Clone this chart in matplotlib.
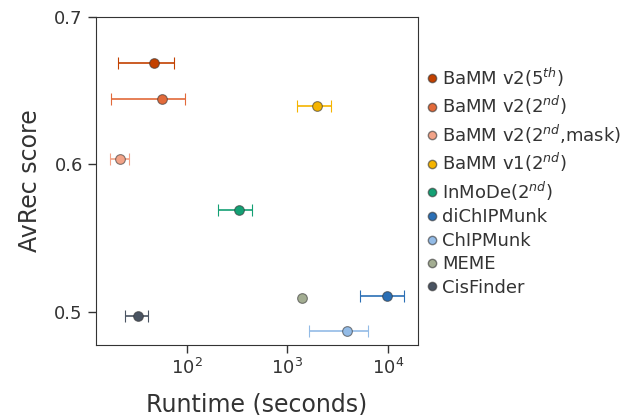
import numpy as np
import matplotlib
matplotlib.use("Agg")
from matplotlib import pyplot as plt

# tools, runtime (s), runtime error range, AvRec score
tools = [r"BaMM v2(5$^{th}$)", r"BaMM v2(2$^{nd}$)", r"BaMM v2(2$^{nd}$,mask)",
         r"BaMM v1(2$^{nd}$)", r"InMoDe(2$^{nd}$)", "diChIPMunk", "ChIPMunk",
         "MEME", "CisFinder"]
runtime = [47.3, 56.4, 21.7, 1967, 329, 9910, 3960, 1403, 32.7]
runtime_lo = [20.6, 17.7, 17.3, 1245, 205, 5300, 1650, 1403, 24.3]
runtime_hi = [74.8, 96, 26.7, 2710, 450, 14400, 6320, 1403, 41.5]
avrec = [0.6686, 0.6445, 0.6039, 0.6395, 0.5693, 0.5106, 0.4869, 0.5091, 0.4973]
colors = ["#c24100", "#e26a3a", "#f2a388", "#f5b400", "#14a074",
          "#2b6fb5", "#93bbe6", "#a3ad92", "#4a5462"]

txt = "#333333"
plt.rcParams["text.color"] = txt
plt.rcParams["axes.labelcolor"] = txt
plt.rcParams["xtick.color"] = txt
plt.rcParams["ytick.color"] = txt
plt.rcParams["axes.edgecolor"] = txt

fig = plt.figure(figsize=(6.26, 4.15), dpi=100)
ax = fig.add_axes([96 / 626, 70 / 415, 322 / 626, 328 / 415])

for name, x, lo, hi, y, c in zip(tools, runtime, runtime_lo, runtime_hi, avrec, colors):
    xerr = [[x - lo], [hi - x]] if hi > lo else None
    ax.errorbar([x], [y], xerr=xerr, fmt="o", color=c, ecolor=c,
                markeredgecolor=(0.2, 0.2, 0.2, 0.6), markeredgewidth=0.8,
                markersize=7, capsize=4, elinewidth=1.2, capthick=1.2,
                label=name)

ax.set_xscale("log")
ax.set_xlim(12.5, 20000)
ax.set_ylim(0.4775, 0.7)
ax.set_yticks([0.5, 0.6, 0.7])
ax.minorticks_off()
ax.tick_params(labelsize=13, length=6, width=1)
ax.set_xlabel("Runtime (seconds)", fontsize=17, labelpad=10)
ax.set_ylabel("AvRec score", fontsize=17, labelpad=9)

handles, labels = ax.get_legend_handles_labels()
handles = [plt.Line2D([], [], marker="o", linestyle="", color=c,
                      markeredgecolor=(0.2, 0.2, 0.2, 0.6), markersize=6)
           for c in colors]
ax.legend(handles, labels, loc="center left", bbox_to_anchor=(1.0, 0.5),
          frameon=False, fontsize=13, handletextpad=0.15, handlelength=0.8,
          labelspacing=0.3, borderaxespad=0.2, borderpad=0.2)

fig.savefig("out.png", dpi=100)
